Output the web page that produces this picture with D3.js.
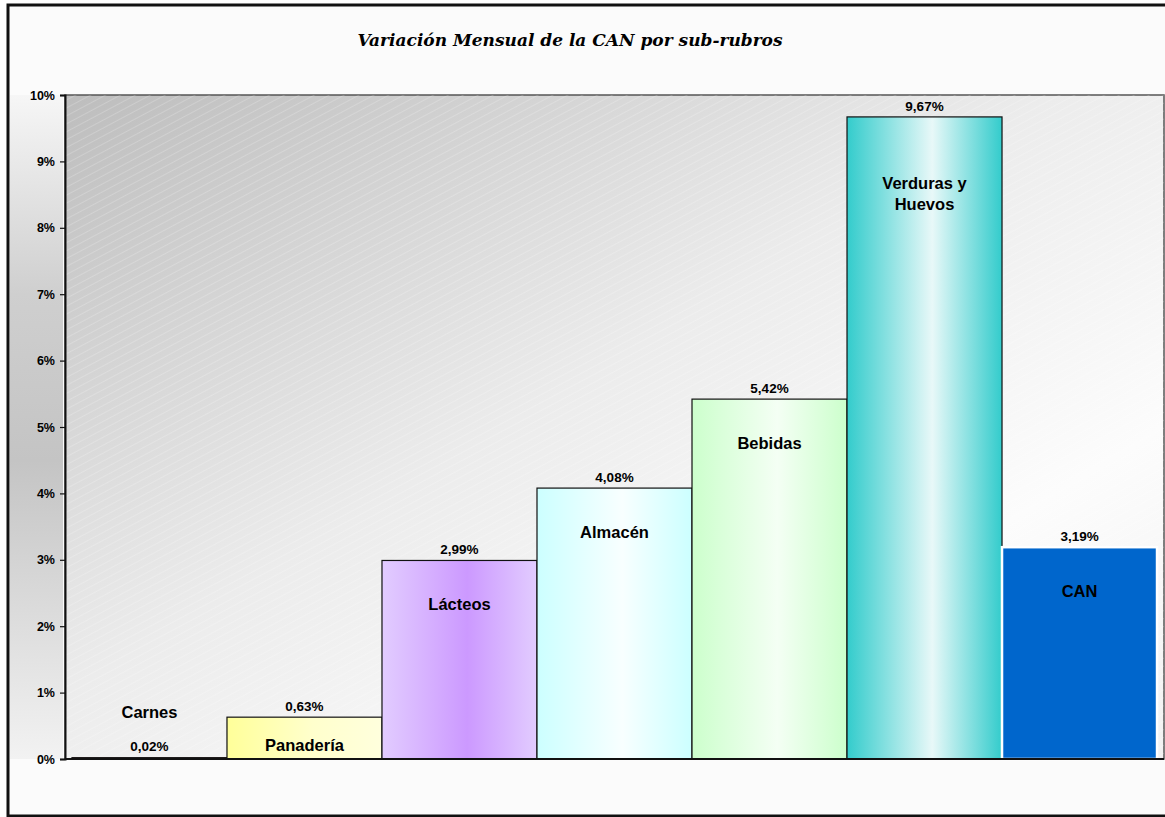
<!DOCTYPE html>
<html>
<head>
<meta charset="utf-8">
<script src="https://cdn.jsdelivr.net/npm/d3@7"></script>
<style>
  body { margin: 0; background: #fff; }
  svg { display: block; }
</style>
</head>
<body>
<div id="chart"></div>
<script>
// data
var categories = ["Carnes", "Panadería", "Lácteos", "Almacén", "Bebidas", "Verduras y Huevos", "CAN"];
var values = [0.02, 0.63, 2.99, 4.08, 5.42, 9.67, 3.19];
var yTicks = [0, 1, 2, 3, 4, 5, 6, 7, 8, 9, 10];
var chartTitle = "Variación Mensual de la CAN por sub-rubros";

var width = 1165,
    height = 817,
    plot = {left: 65, right: 1164, top: 95, bottom: 759};

// fill of each bar: [edge, centre, other edge] of a horizontal gradient
var barFills = [
    ["#cc3333", "#ff9999", "#cc3333"],
    ["#ffff99", "#ffffcc", "#ffffdd"],
    ["#e2ccff", "#cc99ff", "#e2ccff"],
    ["#ccffff", "#f8ffff", "#ccffff"],
    ["#ccffcc", "#f4fff4", "#ccffcc"],
    ["#33cccc", "#e8f8f8", "#33cccc"],
    ["#0066cc", "#0066cc", "#0066cc"]
];

var data = categories.map(function(c, i) { return {name: c, value: values[i], fill: barFills[i]}; });

var font = "Arial, 'Liberation Sans', sans-serif";

var svg = d3.select("#chart").append("svg")
    .attr("width", width)
    .attr("height", height);

var defs = svg.append("defs");

// chart area background + frame
svg.append("rect")
    .attr("x", 8).attr("y", 5)
    .attr("width", 1200).attr("height", 811)
    .attr("fill", "#fbfbfb")
    .attr("stroke", "#111")
    .attr("stroke-width", 3);

// grey shade to the left of the plot
var sideGrad = defs.append("linearGradient")
    .attr("id", "sideGrad")
    .attr("x1", 0).attr("y1", 0).attr("x2", 0).attr("y2", 1);
sideGrad.append("stop").attr("offset", "0%").attr("stop-color", "#f6f6f6");
sideGrad.append("stop").attr("offset", "30%").attr("stop-color", "#cfcfcf");
sideGrad.append("stop").attr("offset", "55%").attr("stop-color", "#c4c4c4");
sideGrad.append("stop").attr("offset", "100%").attr("stop-color", "#f2f2f2");
svg.append("rect")
    .attr("x", 10).attr("y", plot.top)
    .attr("width", plot.left - 12).attr("height", plot.bottom - plot.top)
    .attr("fill", "url(#sideGrad)");

// plot area: diagonal grey-to-white gradient with thin stripes
var plotGrad = defs.append("linearGradient")
    .attr("id", "plotGrad")
    .attr("x1", 0).attr("y1", 0).attr("x2", 1).attr("y2", 1);
plotGrad.append("stop").attr("offset", "0%").attr("stop-color", "#bdbdbd");
plotGrad.append("stop").attr("offset", "45%").attr("stop-color", "#ececec");
plotGrad.append("stop").attr("offset", "75%").attr("stop-color", "#fcfcfc");
plotGrad.append("stop").attr("offset", "100%").attr("stop-color", "#f2f2f2");

var stripes = defs.append("pattern")
    .attr("id", "stripes")
    .attr("patternUnits", "userSpaceOnUse")
    .attr("width", 7).attr("height", 7)
    .attr("patternTransform", "rotate(-28)");
stripes.append("line")
    .attr("x1", 0).attr("y1", 0).attr("x2", 7).attr("y2", 0)
    .attr("stroke", "#fff").attr("stroke-opacity", 0.4).attr("stroke-width", 1);

svg.append("rect")
    .attr("x", plot.left).attr("y", plot.top)
    .attr("width", plot.right - plot.left).attr("height", plot.bottom - plot.top)
    .attr("fill", "url(#plotGrad)")
    .attr("stroke", "#555")
    .attr("stroke-width", 1.5);
svg.append("rect")
    .attr("x", plot.left).attr("y", plot.top)
    .attr("width", plot.right - plot.left).attr("height", plot.bottom - plot.top)
    .attr("fill", "url(#stripes)");

// title
svg.append("text")
    .attr("x", 570).attr("y", 40)
    .attr("dy", "0.35em")
    .attr("text-anchor", "middle")
    .style("font-family", "'DejaVu Serif', serif")
    .style("font-weight", "bold")
    .style("font-style", "italic")
    .style("font-size", "17px")
    .attr("fill", "#000")
    .text(chartTitle);

// scales
var x = d3.scaleBand()
    .domain(categories)
    .range([plot.left, plot.right])
    .paddingInner(0)
    .paddingOuter(0.045);

var y = d3.scaleLinear()
    .domain([0, 10])
    .range([plot.bottom, plot.top]);

// bar gradients
data.forEach(function(d, i) {
    var g = defs.append("linearGradient")
        .attr("id", "barGrad" + i)
        .attr("x1", 0).attr("y1", 0).attr("x2", 1).attr("y2", 0);
    g.append("stop").attr("offset", "0%").attr("stop-color", d.fill[0]);
    g.append("stop").attr("offset", "55%").attr("stop-color", d.fill[1]);
    g.append("stop").attr("offset", "100%").attr("stop-color", d.fill[2]);
});

var g = svg.append("g");

g.selectAll(".bar")
    .data(data)
  .enter().append("rect")
    .attr("class", "bar")
    .attr("x", function(d) { return x(d.name); })
    .attr("y", function(d) { return y(d.value); })
    .attr("width", x.bandwidth())
    .attr("height", function(d) { return y(0) - y(d.value); })
    .attr("fill", function(d, i) { return "url(#barGrad" + i + ")"; })
    .attr("stroke", function(d) { return d.name === "CAN" ? "#fff" : "#111"; })
    .attr("stroke-width", function(d) { return d.name === "CAN" ? 2.5 : 1.2; });

// axes
var yAxis = svg.append("g")
    .attr("class", "y axis")
    .attr("transform", "translate(" + plot.left + ",0)")
    .call(d3.axisLeft(y).tickValues(yTicks).tickSize(5).tickPadding(5)
        .tickFormat(function(d) { return d + "%"; }));
yAxis.select(".domain").attr("stroke", "#111").attr("stroke-width", 2);
yAxis.selectAll(".tick line").attr("stroke", "#111").attr("stroke-width", 1.2);
yAxis.selectAll(".tick text")
    .style("font-family", font)
    .style("font-weight", "bold")
    .style("font-size", "12.5px")
    .attr("fill", "#000");

svg.append("line")
    .attr("x1", plot.left).attr("x2", plot.right)
    .attr("y1", plot.bottom).attr("y2", plot.bottom)
    .attr("stroke", "#111").attr("stroke-width", 2);

// value labels above the bars
var fmt = function(v) { return v.toFixed(2).replace(".", ",") + "%"; };

g.selectAll(".value")
    .data(data)
  .enter().append("text")
    .attr("class", "value")
    .attr("x", function(d) { return x(d.name) + x.bandwidth() / 2; })
    .attr("y", function(d) { return y(d.value) - 11; })
    .attr("dy", "0.35em")
    .attr("text-anchor", "middle")
    .style("font-family", font)
    .style("font-weight", "bold")
    .style("font-size", "13.5px")
    .attr("fill", "#000")
    .text(function(d) { return fmt(d.value); });

// category labels inside the bars (above when the bar is too short)
function labelY(d) {
    var top = y(d.value), h = y(0) - top;
    if (h < 20) return top - 45;
    return top + Math.min(Math.max(44, h * 0.12), h - 14);
}

var names = g.selectAll(".name")
    .data(data)
  .enter().append("text")
    .attr("class", "name")
    .attr("text-anchor", "middle")
    .style("font-family", font)
    .style("font-weight", "bold")
    .style("font-size", "16.5px")
    .attr("fill", "#000");

names.each(function(d) {
    var t = d3.select(this),
        cx = x(d.name) + x.bandwidth() / 2,
        cy = labelY(d),
        lines = d.name === "Verduras y Huevos" ? ["Verduras y", "Huevos"] : [d.name];
    lines.forEach(function(l, k) {
        t.append("tspan")
            .attr("x", cx)
            .attr("y", cy + (k - (lines.length - 1) / 2) * 21)
            .attr("dy", "0.35em")
            .text(l);
    });
});
</script>
</body>
</html>
